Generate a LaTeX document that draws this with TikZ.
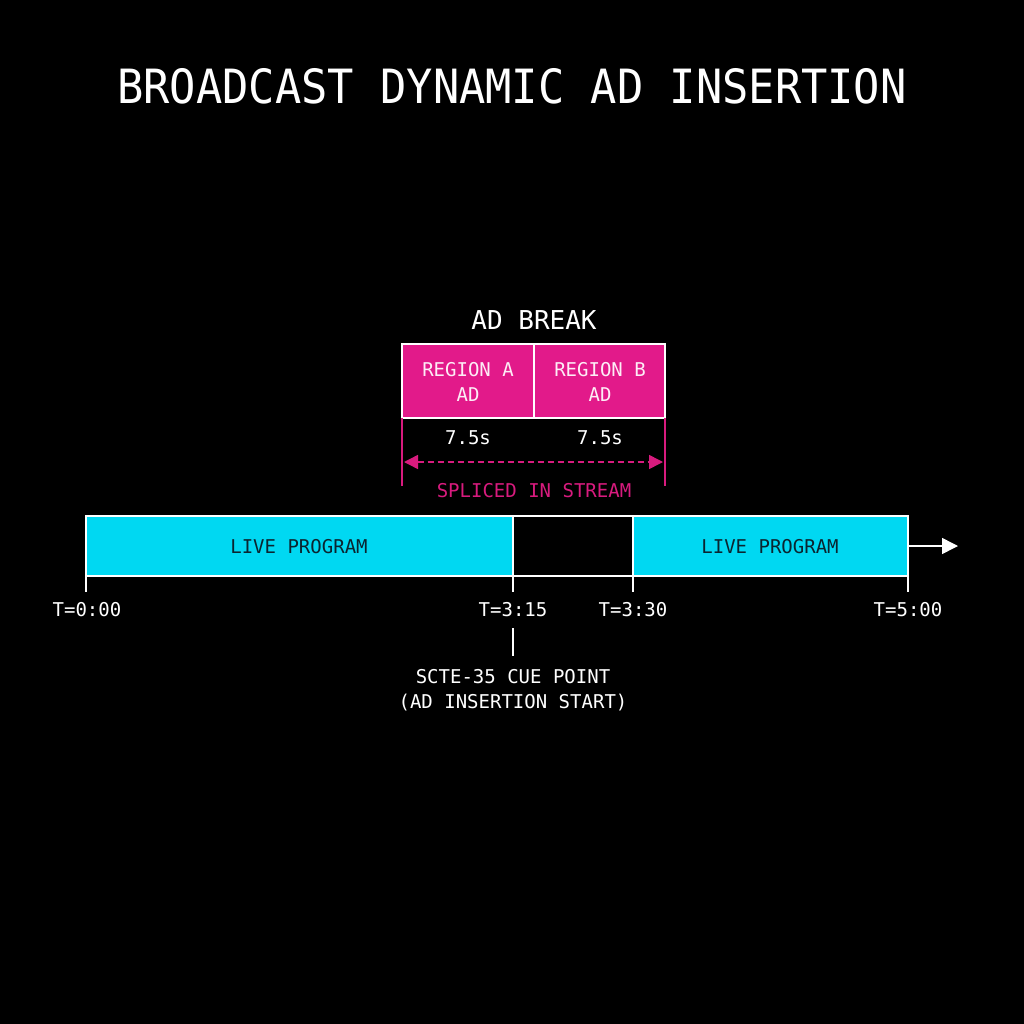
\documentclass[tikz,border=0pt]{standalone}
\usepackage{fontspec}
\setmonofont{DejaVu Sans Mono}
\usetikzlibrary{arrows.meta}
\definecolor{cyanbar}{HTML}{00D8F2}
\definecolor{pinkad}{HTML}{E21A8A}
\definecolor{pinkline}{HTML}{D81B7E}
\definecolor{darktext}{HTML}{0B2530}
\tikzset{
  lbl/.style={font=\ttfamily\fontsize{19}{25}\selectfont, text=white, align=center, inner sep=0pt},
  pinkbox/.style={draw=white, line width=1.5pt, fill=pinkad},
  barbox/.style={draw=white, line width=1.5pt, fill=cyanbar},
  tickln/.style={draw=white, line width=1.5pt},
}
\begin{document}
\begin{tikzpicture}[x=1pt,y=-1pt]
\fill[black] (0,0) rectangle (1024,1024);
\useasboundingbox (0,0) rectangle (1024,1024);
% title
\node[font=\ttfamily\fontsize{43.7}{48}\selectfont, text=white, inner sep=0pt] (title) at (512,86) {\scalebox{1}[1.08]{BROADCAST DYNAMIC AD INSERTION}};
% ad break
\node[font=\ttfamily\fontsize{26}{30}\selectfont, text=white, inner sep=0pt] (adbreak) at (534,320) {AD BREAK};
\draw[pinkbox] (402,344) rectangle (534,418);
\draw[pinkbox] (534,344) rectangle (665,418);
\node[lbl, text=white!92!pinkad] (rega) at (468,382) {REGION A\\AD};
\node[lbl, text=white!92!pinkad] (regb) at (600,382) {REGION B\\AD};
\coordinate (pl1) at (402,418);
\coordinate (pl1b) at (402,486);
\coordinate (pl2) at (665,418);
\coordinate (pl2b) at (665,486);
\draw[pinkline, line width=1.5pt] (pl1) -- (pl1b);
\draw[pinkline, line width=1.5pt] (pl2) -- (pl2b);
\node[lbl] (da) at (468,438) {7.5s};
\node[lbl] (db) at (600,438) {7.5s};
\coordinate (arl) at (404,462);
\coordinate (arr) at (663,462);
\draw[pinkline, line width=1.5pt, dash pattern=on 6pt off 4pt, {Triangle[length=14pt,width=14pt]}-{Triangle[length=14pt,width=14pt]}] (arl) -- (arr);
\node[lbl, text=pinkline] (spliced) at (534,491) {SPLICED IN STREAM};
% timeline
\draw[barbox] (86,516) rectangle (513,576);
\draw[draw=white, line width=1.5pt, fill=black] (513,516) rectangle (633,576);
\draw[barbox] (633,516) rectangle (908,576);
\node[lbl, text=darktext] (live1) at (299,547) {LIVE PROGRAM};
\node[lbl, text=darktext] (live2) at (770,547) {LIVE PROGRAM};
\coordinate (ae) at (908,546);
\coordinate (af) at (958,546);
\draw[white, line width=1.5pt, -{Triangle[length=16pt,width=16pt]}] (ae) -- (af);
% ticks
\foreach \x/\n in {86/a,513/b,633/c,908/d}{
  \coordinate (t\n) at (\x,576);
  \coordinate (tb\n) at (\x,592);
  \draw[tickln] (t\n) -- (tb\n);
}
\node[lbl] (l0) at (87,610) {T=0:00};
\node[lbl] (l1) at (513,610) {T=3:15};
\node[lbl] (l2) at (633,610) {T=3:30};
\node[lbl] (l3) at (908,610) {T=5:00};
\coordinate (cu1) at (513,628);
\coordinate (cu2) at (513,656);
\draw[tickln] (cu1) -- (cu2);
\node[lbl, align=center] (cue) at (513,690) {SCTE-35 CUE POINT\\(AD INSERTION START)};
\end{tikzpicture}
\end{document}
